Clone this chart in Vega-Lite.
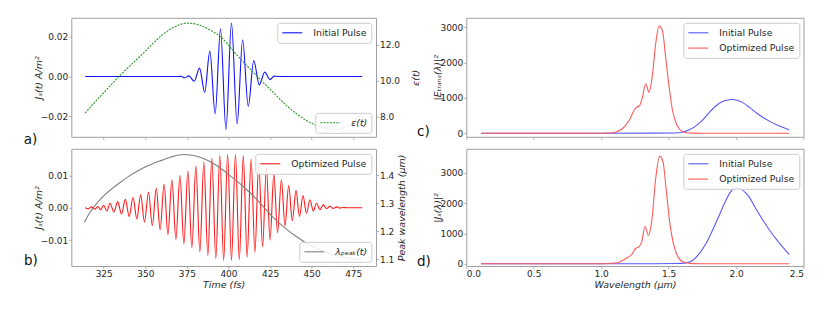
{
  "$schema": "https://vega.github.io/schema/vega-lite/v6.json",
  "background": "white",
  "padding": {"left": 22.3, "top": 16.8, "right": 10, "bottom": 5},
  "datasets": {
    "aJ": [
      {"t": 313.8, "J": 0}, {"t": 369.8, "J": 0}, {"t": 371.8, "J": 0.0001}, {"t": 373.4, "J": -0.0007},
      {"t": 376.2, "J": 0.0003}, {"t": 379.4, "J": -0.0024}, {"t": 382.6, "J": 0.0042}, {"t": 385.7, "J": -0.0079},
      {"t": 388.8, "J": 0.0128}, {"t": 392.0, "J": -0.0188}, {"t": 395.2, "J": 0.0240}, {"t": 398.5, "J": -0.0268},
      {"t": 401.8, "J": 0.0269}, {"t": 405.2, "J": -0.0239}, {"t": 408.5, "J": 0.0185}, {"t": 411.9, "J": -0.0150},
      {"t": 415.2, "J": 0.0081}, {"t": 418.5, "J": -0.0042}, {"t": 421.8, "J": 0.0022}, {"t": 424.9, "J": -0.0015},
      {"t": 427.5, "J": 0.0002}, {"t": 430.0, "J": 0}, {"t": 480.4, "J": 0}
    ],
    "aE": [
      {"t": 313.8, "E": 8.18}, {"t": 318.8, "E": 8.70}, {"t": 323.8, "E": 9.20}, {"t": 328.8, "E": 9.70},
      {"t": 333.8, "E": 10.19}, {"t": 338.8, "E": 10.65}, {"t": 343.8, "E": 11.08}, {"t": 349.8, "E": 11.62},
      {"t": 354.8, "E": 12.08}, {"t": 359.8, "E": 12.51}, {"t": 364.8, "E": 12.84}, {"t": 369.8, "E": 13.08},
      {"t": 374.8, "E": 13.20}, {"t": 379.8, "E": 13.16}, {"t": 383.8, "E": 13.05}, {"t": 387.8, "E": 12.88},
      {"t": 391.8, "E": 12.66}, {"t": 395.8, "E": 12.40}, {"t": 400.8, "E": 11.88}, {"t": 405.8, "E": 11.35},
      {"t": 410.8, "E": 10.85}, {"t": 415.8, "E": 10.37}, {"t": 420.8, "E": 9.90}, {"t": 425.8, "E": 9.44},
      {"t": 430.8, "E": 8.97}, {"t": 435.8, "E": 8.53}, {"t": 440.8, "E": 8.15}, {"t": 445.8, "E": 7.83},
      {"t": 450.8, "E": 7.58}, {"t": 455.8, "E": 7.40}, {"t": 460.8, "E": 7.29}, {"t": 465.8, "E": 7.27},
      {"t": 470.8, "E": 7.43}, {"t": 475.8, "E": 7.80}, {"t": 480.4, "E": 8.18}
    ],
    "bJ": [
      {"t": 313.8, "J": 0.0000}, {"t": 315.8, "J": -0.0003}, {"t": 317.6, "J": 0.0003}, {"t": 319.6, "J": -0.0004},
      {"t": 321.4, "J": 0.0004}, {"t": 323.2, "J": -0.0006}, {"t": 324.9, "J": 0.0008}, {"t": 326.9, "J": -0.0010},
      {"t": 328.8, "J": 0.0014}, {"t": 331.1, "J": -0.0013}, {"t": 333.4, "J": 0.0019}, {"t": 335.7, "J": -0.0019},
      {"t": 338.0, "J": 0.0026}, {"t": 340.3, "J": -0.0027}, {"t": 342.6, "J": 0.0032}, {"t": 344.9, "J": -0.0034},
      {"t": 347.2, "J": 0.0040}, {"t": 349.5, "J": -0.0044}, {"t": 351.9, "J": 0.0049}, {"t": 354.2, "J": -0.0055},
      {"t": 356.6, "J": 0.0060}, {"t": 358.9, "J": -0.0068}, {"t": 361.3, "J": 0.0073}, {"t": 363.6, "J": -0.0083},
      {"t": 366.0, "J": 0.0087}, {"t": 368.4, "J": -0.0098}, {"t": 370.8, "J": 0.0100}, {"t": 373.2, "J": -0.0112},
      {"t": 375.6, "J": 0.0114}, {"t": 378.0, "J": -0.0124}, {"t": 380.4, "J": 0.0130}, {"t": 382.8, "J": -0.0137},
      {"t": 385.2, "J": 0.0142}, {"t": 387.6, "J": -0.0148}, {"t": 390.0, "J": 0.0154}, {"t": 392.4, "J": -0.0157},
      {"t": 394.8, "J": 0.0162}, {"t": 397.1, "J": -0.0163}, {"t": 399.5, "J": 0.0166}, {"t": 401.8, "J": -0.0163},
      {"t": 404.2, "J": 0.0166}, {"t": 406.5, "J": -0.0161}, {"t": 408.9, "J": 0.0162}, {"t": 411.2, "J": -0.0153},
      {"t": 413.6, "J": 0.0151}, {"t": 415.9, "J": -0.0138}, {"t": 418.2, "J": 0.0140}, {"t": 420.5, "J": -0.0121},
      {"t": 422.8, "J": 0.0125}, {"t": 425.0, "J": -0.0100}, {"t": 427.3, "J": 0.0105}, {"t": 429.5, "J": -0.0077},
      {"t": 431.8, "J": 0.0087}, {"t": 434.0, "J": -0.0056}, {"t": 436.2, "J": 0.0069}, {"t": 438.4, "J": -0.0040},
      {"t": 440.6, "J": 0.0054}, {"t": 442.7, "J": -0.0027}, {"t": 444.8, "J": 0.0038}, {"t": 446.9, "J": -0.0017},
      {"t": 449.0, "J": 0.0025}, {"t": 451.0, "J": -0.0010}, {"t": 453.0, "J": 0.0014}, {"t": 455.0, "J": -0.0006},
      {"t": 457.0, "J": 0.0009}, {"t": 459.0, "J": -0.0003}, {"t": 461.0, "J": 0.0005}, {"t": 463.0, "J": -0.0002},
      {"t": 465.0, "J": 0.0003}, {"t": 467.0, "J": -0.0001}, {"t": 469.0, "J": 0.0001}, {"t": 471.0, "J": 0.0000},
      {"t": 480.4, "J": 0.0000}
    ],
    "bL": [
      {"t": 313.4, "L": 1.232}, {"t": 316.5, "L": 1.265}, {"t": 319.8, "L": 1.292}, {"t": 324.8, "L": 1.325},
      {"t": 329.8, "L": 1.351}, {"t": 334.8, "L": 1.374}, {"t": 339.8, "L": 1.395}, {"t": 344.8, "L": 1.413},
      {"t": 349.8, "L": 1.429}, {"t": 354.8, "L": 1.442}, {"t": 359.8, "L": 1.453}, {"t": 366.0, "L": 1.466},
      {"t": 372.8, "L": 1.474}, {"t": 378.0, "L": 1.471}, {"t": 383.8, "L": 1.462}, {"t": 388.8, "L": 1.449},
      {"t": 393.8, "L": 1.431}, {"t": 399.8, "L": 1.404}, {"t": 405.8, "L": 1.375}, {"t": 410.8, "L": 1.349},
      {"t": 415.8, "L": 1.321}, {"t": 420.8, "L": 1.289}, {"t": 425.8, "L": 1.256}, {"t": 430.8, "L": 1.228},
      {"t": 435.8, "L": 1.203}, {"t": 440.8, "L": 1.181}, {"t": 445.8, "L": 1.161}, {"t": 450.8, "L": 1.145},
      {"t": 455.8, "L": 1.131}, {"t": 460.8, "L": 1.120}, {"t": 465.8, "L": 1.111}, {"t": 470.8, "L": 1.105},
      {"t": 476.8, "L": 1.101}, {"t": 480.4, "L": 1.100}
    ],
    "c": [
      {"w": 0.11, "P": 0, "s": "Initial Pulse"}, {"w": 1.00, "P": 0, "s": "Initial Pulse"}, {"w": 1.40, "P": 1, "s": "Initial Pulse"},
      {"w": 1.55, "P": 5, "s": "Initial Pulse"}, {"w": 1.60, "P": 25, "s": "Initial Pulse"}, {"w": 1.65, "P": 90, "s": "Initial Pulse"},
      {"w": 1.70, "P": 200, "s": "Initial Pulse"}, {"w": 1.75, "P": 360, "s": "Initial Pulse"}, {"w": 1.80, "P": 580, "s": "Initial Pulse"},
      {"w": 1.85, "P": 770, "s": "Initial Pulse"}, {"w": 1.90, "P": 895, "s": "Initial Pulse"}, {"w": 1.95, "P": 945, "s": "Initial Pulse"},
      {"w": 1.975, "P": 952, "s": "Initial Pulse"}, {"w": 2.00, "P": 940, "s": "Initial Pulse"}, {"w": 2.05, "P": 865, "s": "Initial Pulse"},
      {"w": 2.10, "P": 730, "s": "Initial Pulse"}, {"w": 2.15, "P": 580, "s": "Initial Pulse"}, {"w": 2.20, "P": 445, "s": "Initial Pulse"},
      {"w": 2.25, "P": 335, "s": "Initial Pulse"}, {"w": 2.30, "P": 240, "s": "Initial Pulse"}, {"w": 2.35, "P": 160, "s": "Initial Pulse"},
      {"w": 2.395, "P": 100, "s": "Initial Pulse"},
      {"w": 0.11, "P": 0, "s": "Optimized Pulse"}, {"w": 1.00, "P": 0, "s": "Optimized Pulse"}, {"w": 1.05, "P": 4, "s": "Optimized Pulse"},
      {"w": 1.083, "P": 15, "s": "Optimized Pulse"}, {"w": 1.12, "P": 50, "s": "Optimized Pulse"}, {"w": 1.157, "P": 125, "s": "Optimized Pulse"},
      {"w": 1.207, "P": 359, "s": "Optimized Pulse"}, {"w": 1.244, "P": 643, "s": "Optimized Pulse"}, {"w": 1.263, "P": 736, "s": "Optimized Pulse"},
      {"w": 1.283, "P": 770, "s": "Optimized Pulse"}, {"w": 1.305, "P": 1000, "s": "Optimized Pulse"}, {"w": 1.330, "P": 1398, "s": "Optimized Pulse"},
      {"w": 1.355, "P": 1160, "s": "Optimized Pulse"}, {"w": 1.380, "P": 1650, "s": "Optimized Pulse"}, {"w": 1.404, "P": 2530, "s": "Optimized Pulse"},
      {"w": 1.429, "P": 3030, "s": "Optimized Pulse"}, {"w": 1.454, "P": 2907, "s": "Optimized Pulse"}, {"w": 1.478, "P": 2151, "s": "Optimized Pulse"},
      {"w": 1.504, "P": 1302, "s": "Optimized Pulse"}, {"w": 1.529, "P": 643, "s": "Optimized Pulse"}, {"w": 1.553, "P": 311, "s": "Optimized Pulse"},
      {"w": 1.578, "P": 125, "s": "Optimized Pulse"}, {"w": 1.603, "P": 48, "s": "Optimized Pulse"}, {"w": 1.63, "P": 14, "s": "Optimized Pulse"},
      {"w": 1.68, "P": 2, "s": "Optimized Pulse"}, {"w": 1.75, "P": 0, "s": "Optimized Pulse"}, {"w": 2.395, "P": 0, "s": "Optimized Pulse"}
    ],
    "d": [
      {"w": 0.11, "P": 0, "s": "Initial Pulse"}, {"w": 1.00, "P": 0, "s": "Initial Pulse"}, {"w": 1.40, "P": 2, "s": "Initial Pulse"},
      {"w": 1.55, "P": 8, "s": "Initial Pulse"}, {"w": 1.60, "P": 15, "s": "Initial Pulse"}, {"w": 1.627, "P": 25, "s": "Initial Pulse"},
      {"w": 1.677, "P": 110, "s": "Initial Pulse"}, {"w": 1.726, "P": 330, "s": "Initial Pulse"}, {"w": 1.776, "P": 659, "s": "Initial Pulse"},
      {"w": 1.825, "P": 1099, "s": "Initial Pulse"}, {"w": 1.875, "P": 1594, "s": "Initial Pulse"}, {"w": 1.924, "P": 2088, "s": "Initial Pulse"},
      {"w": 1.961, "P": 2380, "s": "Initial Pulse"}, {"w": 1.999, "P": 2515, "s": "Initial Pulse"}, {"w": 2.036, "P": 2470, "s": "Initial Pulse"},
      {"w": 2.073, "P": 2330, "s": "Initial Pulse"}, {"w": 2.098, "P": 2198, "s": "Initial Pulse"}, {"w": 2.147, "P": 1813, "s": "Initial Pulse"},
      {"w": 2.197, "P": 1451, "s": "Initial Pulse"}, {"w": 2.246, "P": 1121, "s": "Initial Pulse"}, {"w": 2.296, "P": 824, "s": "Initial Pulse"},
      {"w": 2.345, "P": 560, "s": "Initial Pulse"}, {"w": 2.395, "P": 300, "s": "Initial Pulse"},
      {"w": 0.11, "P": 0, "s": "Optimized Pulse"}, {"w": 1.00, "P": 0, "s": "Optimized Pulse"}, {"w": 1.06, "P": 8, "s": "Optimized Pulse"},
      {"w": 1.10, "P": 25, "s": "Optimized Pulse"}, {"w": 1.132, "P": 53, "s": "Optimized Pulse"}, {"w": 1.181, "P": 165, "s": "Optimized Pulse"},
      {"w": 1.231, "P": 330, "s": "Optimized Pulse"}, {"w": 1.256, "P": 514, "s": "Optimized Pulse"}, {"w": 1.276, "P": 547, "s": "Optimized Pulse"},
      {"w": 1.300, "P": 712, "s": "Optimized Pulse"}, {"w": 1.325, "P": 1230, "s": "Optimized Pulse"}, {"w": 1.350, "P": 933, "s": "Optimized Pulse"},
      {"w": 1.374, "P": 1372, "s": "Optimized Pulse"}, {"w": 1.404, "P": 2802, "s": "Optimized Pulse"}, {"w": 1.434, "P": 3548, "s": "Optimized Pulse"},
      {"w": 1.459, "P": 3350, "s": "Optimized Pulse"}, {"w": 1.484, "P": 2361, "s": "Optimized Pulse"}, {"w": 1.508, "P": 1372, "s": "Optimized Pulse"},
      {"w": 1.533, "P": 712, "s": "Optimized Pulse"}, {"w": 1.558, "P": 330, "s": "Optimized Pulse"}, {"w": 1.590, "P": 109, "s": "Optimized Pulse"},
      {"w": 1.627, "P": 33, "s": "Optimized Pulse"}, {"w": 1.68, "P": 5, "s": "Optimized Pulse"}, {"w": 1.75, "P": 0, "s": "Optimized Pulse"},
      {"w": 2.395, "P": 0, "s": "Optimized Pulse"}
    ]
  },
  "concat": [
    {
      "width": 304.7, "height": 119,
      "title": {"text": "a)", "orient": "bottom", "anchor": "start", "frame": "group", "dx": -47.6, "offset": 4, "baseline": "alphabetic"},
      "layer": [
        {
          "data": {"name": "aJ"},
          "mark": {"type": "line", "interpolate": "monotone", "strokeWidth": 1.1, "clip": true},
          "encoding": {
            "x": {"field": "t", "type": "quantitative", "scale": {"domain": [305.5, 488.7], "nice": false, "zero": false},
                  "axis": {"values": [325, 350, 375, 400, 425, 450, 475], "labels": false, "title": null}},
            "y": {"field": "J", "type": "quantitative", "scale": {"domain": [-0.0304, 0.02959], "nice": false, "zero": false},
                  "axis": {"values": [-0.02, 0, 0.02], "format": ".2f", "title": "Jₛ(t)  A/m²", "titlePadding": -3}},
            "color": {"datum": "Initial Pulse", "scale": {"range": ["#1010ff"]},
                      "legend": {"title": null, "orient": "top-right", "symbolType": "M-2,0H2", "symbolSize": 100, "symbolOffset": 5, "labelOffset": 15}}
          }
        },
        {
          "data": {"name": "aE"},
          "mark": {"type": "line", "interpolate": "monotone", "strokeWidth": 1.1, "strokeDash": [2, 1.2], "clip": true},
          "encoding": {
            "x": {"field": "t", "type": "quantitative"},
            "y": {"field": "E", "type": "quantitative", "scale": {"domain": [6.86, 13.497], "nice": false, "zero": false},
                  "axis": {"orient": "right", "values": [8, 10, 12], "format": ".1f", "title": "ε(t)", "titleAngle": 270, "titleBaseline": "top", "titlePadding": 11}},
            "color": {"datum": "ε(t)", "scale": {"range": ["#2a962a"]},
                      "legend": {"title": null, "orient": "bottom-right", "symbolDash": [2, 1.2], "labelFontStyle": "italic", "symbolType": "M-2,0H2", "symbolSize": 100, "symbolOffset": 5, "labelOffset": 15}}
          }
        }
      ],
      "resolve": {"scale": {"y": "independent", "color": "independent"}}
    },
    {
      "width": 337.2, "height": 119,
      "title": {"text": "c)", "orient": "bottom", "anchor": "start", "frame": "group", "dx": -49.3, "offset": -3.7, "baseline": "alphabetic"},
      "data": {"name": "c"},
      "mark": {"type": "line", "interpolate": "monotone", "strokeWidth": 1.1, "clip": true},
      "encoding": {
        "x": {"field": "w", "type": "quantitative", "scale": {"domain": [0, 2.5], "nice": false},
              "axis": {"values": [0, 0.5, 1, 1.5, 2, 2.5], "labels": false, "title": null}},
        "y": {"field": "P", "type": "quantitative", "scale": {"domain": [-101.9, 3266], "nice": false, "zero": false},
              "axis": {"values": [0, 1000, 2000, 3000], "format": "d", "title": "|Eₜᵣₐₙₛ(λ)|²", "titlePadding": -3}},
        "color": {"field": "s", "type": "nominal", "scale": {"domain": ["Initial Pulse", "Optimized Pulse"], "range": ["#5a5aff", "#ff5a5a"]},
                  "legend": {"title": null, "orient": "top-right", "symbolType": "M-2,0H2", "symbolSize": 100, "symbolOffset": 5, "labelOffset": 15}}
      }
    },
    {
      "width": 304.7, "height": 117.2,
      "title": {"text": "b)", "orient": "bottom", "anchor": "start", "frame": "group", "dx": -47.3, "offset": -24, "baseline": "alphabetic"},
      "layer": [
        {
          "data": {"name": "bJ"},
          "mark": {"type": "line", "interpolate": "monotone", "strokeWidth": 1.1, "clip": true},
          "encoding": {
            "x": {"field": "t", "type": "quantitative", "scale": {"domain": [305.5, 488.7], "nice": false, "zero": false},
                  "axis": {"values": [325, 350, 375, 400, 425, 450, 475], "format": "d", "title": "Time  (fs)"}},
            "y": {"field": "J", "type": "quantitative", "scale": {"domain": [-0.01802, 0.01827], "nice": false, "zero": false},
                  "axis": {"values": [-0.01, 0, 0.01], "format": ".2f", "title": "Jₛ(t)  A/m²", "titlePadding": -3}},
            "color": {"datum": "Optimized Pulse", "scale": {"range": ["#ff1a1a"]},
                      "legend": {"title": null, "orient": "top-right", "symbolType": "M-2,0H2", "symbolSize": 100, "symbolOffset": 5, "labelOffset": 15}}
          }
        },
        {
          "data": {"name": "bL"},
          "mark": {"type": "line", "interpolate": "monotone", "strokeWidth": 1.1, "clip": true},
          "encoding": {
            "x": {"field": "t", "type": "quantitative"},
            "y": {"field": "L", "type": "quantitative", "scale": {"domain": [1.0757, 1.4943], "nice": false, "zero": false},
                  "axis": {"orient": "right", "values": [1.1, 1.2, 1.3, 1.4], "format": ".1f", "title": "Peak wavelength (μm)", "titleAngle": 270, "titleBaseline": "top", "titlePadding": 3}},
            "color": {"datum": "λₚₑₐₖ(t)", "scale": {"range": ["#7f7f7f"]},
                      "legend": {"title": null, "orient": "bottom-right", "labelFontStyle": "italic", "symbolType": "M-2,0H2", "symbolSize": 100, "symbolOffset": 5, "labelOffset": 15}}
          }
        }
      ],
      "resolve": {"scale": {"y": "independent", "color": "independent"}}
    },
    {
      "width": 337.2, "height": 117.2,
      "title": {"text": "d)", "orient": "bottom", "anchor": "start", "frame": "group", "dx": -49.3, "offset": -23, "baseline": "alphabetic"},
      "data": {"name": "d"},
      "mark": {"type": "line", "interpolate": "monotone", "strokeWidth": 1.1, "clip": true},
      "encoding": {
        "x": {"field": "w", "type": "quantitative", "scale": {"domain": [0, 2.5], "nice": false},
              "axis": {"values": [0, 0.5, 1, 1.5, 2, 2.5], "format": ".1f", "title": "Wavelength  (μm)"}},
        "y": {"field": "P", "type": "quantitative", "scale": {"domain": [-72.5, 3791], "nice": false, "zero": false},
              "axis": {"values": [0, 1000, 2000, 3000], "format": "d", "title": "|Jₛ(λ)|²", "titlePadding": -3}},
        "color": {"field": "s", "type": "nominal", "scale": {"domain": ["Initial Pulse", "Optimized Pulse"], "range": ["#5a5aff", "#ff5a5a"]},
                  "legend": {"title": null, "orient": "top-right", "symbolType": "M-2,0H2", "symbolSize": 100, "symbolOffset": 5, "labelOffset": 15}}
      }
    }
  ],
  "columns": 2,
  "spacing": {"row": 12, "column": 90},
  "bounds": "flush",
  "resolve": {"scale": {"color": "independent"}},
  "config": {
    "font": "DejaVu Sans",
    "view": {"stroke": "#a0a0a0", "strokeWidth": 1},
    "axis": {
      "grid": false, "domain": false, "tickSize": 2.5, "tickColor": "#999999", "tickWidth": 0.8,
      "labelFont": "DejaVu Sans", "labelFontSize": 9, "labelColor": "#262626", "labelPadding": 1,
      "titleFont": "DejaVu Sans", "titleFontSize": 9.5, "titleFontWeight": "normal", "titleFontStyle": "italic", "titleColor": "#262626", "titlePadding": 1
    },
    "legend": {
      "fillColor": "rgba(255,255,255,0.85)", "strokeColor": "#cccccc", "cornerRadius": 2.5, "padding": 4,
      "labelFont": "DejaVu Sans", "labelFontSize": 9.3, "labelColor": "#262626",
      "symbolStrokeWidth": 1.1, "offset": 4.5, "rowPadding": 3.3
    },
    "title": {"font": "DejaVu Sans", "fontSize": 13.5, "fontWeight": "normal", "color": "#111111"}
  }
}
